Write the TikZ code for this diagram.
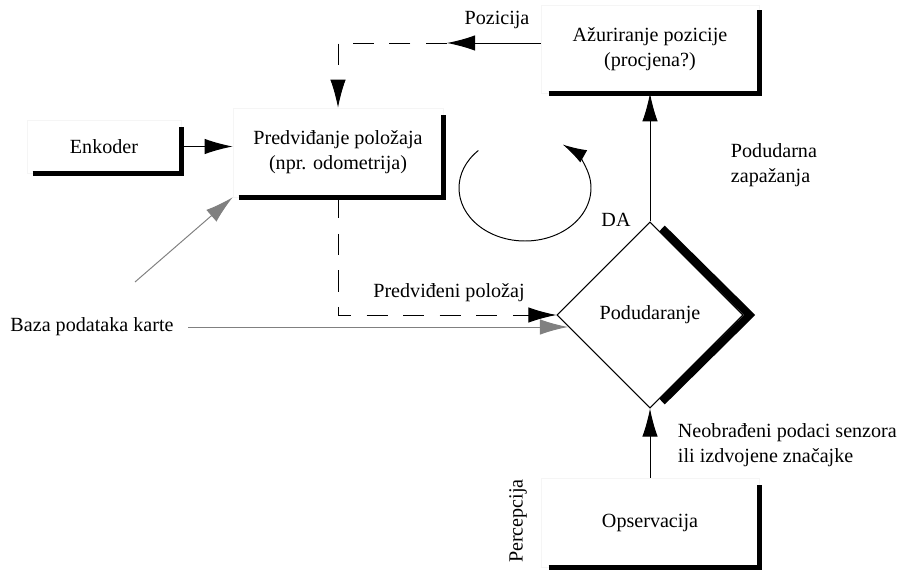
\documentclass[tikz,border=0pt]{standalone}
\usepackage{fontspec}
\setmainfont{Liberation Serif}
\usetikzlibrary{arrows.meta,shapes.geometric}

\begin{document}
\begin{tikzpicture}[x=0.025cm,y=-0.025cm,
  font=\fontsize{14.3}{17.8}\selectfont,
  blok/.style={draw=black!4,line width=0.4pt,align=center,inner sep=0pt},
  sjena/.style={line width=3.6pt,line cap=butt,line join=miter},
  tanka/.style={line width=0.7pt},
  strelica/.style={tanka,-{Latex[length=20pt,width=11pt]}},
  siva/.style={strelica,black!50},
  crtkano/.style={dash pattern=on 15pt off 11pt}]
\useasboundingbox (0,0) rectangle (902,570);

% blokovi
\node[blok,minimum width=3.85cm,minimum height=1.325cm] (enk)at(104,146.5){Enkoder};
\node[blok,minimum width=5.25cm,minimum height=2.225cm] (pred)at(338,152.5){Predviđanje položaja\\(npr. odometrija)};
\node[blok,minimum width=5.45cm,minimum height=2.2cm] (azur)at(650,49){Ažuriranje pozicije\\(procjena?)};
\node[blok,minimum width=5.45cm,minimum height=2.225cm] (opserv)at(650,522.5){Opservacija};
\node[draw,tanka,diamond,aspect=1,inner sep=0pt,minimum size=4.65cm] (dia)at(650,315){Podudaranje};

% debeli rubovi
\draw[sjena] ([shift={(6,0)}]enk.south west) -- (enk.south east) -- ([shift={(0,7)}]enk.north east);
\draw[sjena] ([shift={(6,0)}]pred.south west) -- (pred.south east) -- ([shift={(0,7)}]pred.north east);
\draw[sjena] ([shift={(8,0)}]azur.south west) -- (azur.south east) -- ([shift={(0,5)}]azur.north east);
\draw[sjena] ([shift={(8,0)}]opserv.south west) -- (opserv.south east) -- ([shift={(0,7)}]opserv.north east);
\draw[sjena,line width=5.7pt] ([shift={(12,7)}]dia.north) -- ([shift={(6,0)}]dia.east) -- ([shift={(12,-7)}]dia.south);

% oznake
\node (pozl)at(497,20){Pozicija};
\node (pp)at(449,293){Predviđeni položaj};
\node (da)at(616,220){DA};
\node[align=left,anchor=west] (pz)at(726,165){Podudarna\\zapažanja};
\node[align=left,anchor=west] (neo)at(673,445){Neobrađeni podaci senzora\\ili izdvojene značajke};
\node[rotate=90] (perc)at(518,521){Percepcija};
\node (baza)at(92,327){Baza podataka karte};

% veze
\coordinate (poz)at(447,43);
\coordinate (g)at(135,282);
\coordinate (krug)at(525,188);
\draw[strelica] (azur.west |- poz) -- (poz);
\draw[strelica,crtkano] (poz) -| (pred.north);
\draw[strelica,crtkano] (pred.south) |- (dia.west);
\draw[strelica] (enk.east) -- (enk.east -| pred.west);
\draw[siva] (g) -- (pred.south west);
\draw[siva] ([xshift=7pt]baza.east) -- (baza.east -| dia.188);
\draw[strelica] (dia.north) -- (dia.north |- azur.south);
\draw[strelica] (dia.south |- opserv.north) -- (dia.south);
\draw[tanka,-{Latex[length=17pt,width=10pt]}] ([shift={(225:66 and 53)}]krug) arc[start angle=225,end angle=-55,x radius=66,y radius=53];
\end{tikzpicture}
\end{document}
